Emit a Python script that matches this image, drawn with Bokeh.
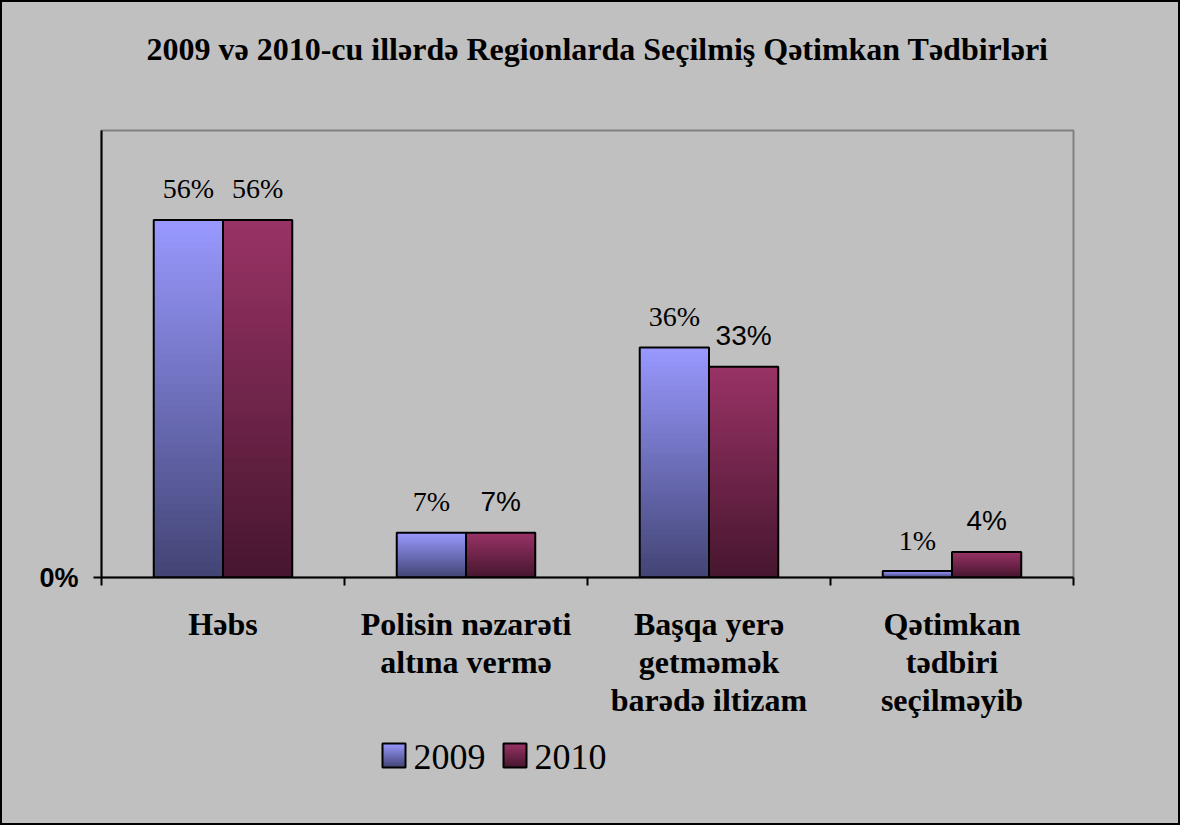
from bokeh.plotting import figure
from bokeh.layouts import column
from bokeh.models import Range1d, FixedTicker, ColumnDataSource
from bokeh.embed import file_html
from bokeh.resources import INLINE

# ---- data ----
title_text = "2009 və 2010-cu illərdə Regionlarda Seçilmiş Qətimkan Tədbirləri"
categories = ["Həbs", "Polisin nəzarəti\naltına vermə", "Başqa yerə\ngetməmək\nbarədə iltizam",
              "Qətimkan\ntədbiri\nseçilməyib"]
series_names = ["2009", "2010"]
values_2009 = [56, 7, 36, 1]
values_2010 = [56, 7, 33, 4]
labels_2009 = ["56%", "7%", "36%", "1%"]
labels_2010 = ["56%", "7%", "33%", "4%"]
label_fonts_2009 = ["Liberation Serif", "Liberation Serif", "Liberation Serif", "Liberation Serif"]
label_fonts_2010 = ["Liberation Serif", "Liberation Sans", "Liberation Sans", "Liberation Sans"]
y_ticks = [0]
y_tick_labels = ["0%"]

# ---- styles ----
BG = "#C0C0C0"
top_colors = [(153, 153, 255), (153, 51, 102)]
bottom_colors = [(66, 68, 116), (70, 22, 46)]
BAR_W = 0.285
N = 48
W = 1176
FRAME_L, FRAME_W = 99, 972


def hexcol(c):
    return "#%02x%02x%02x" % tuple(int(round(v)) for v in c)


def interp(a, b, t):
    return tuple(a[i] + (b[i] - a[i]) * t for i in range(3))


def gradient_quads(fig, lefts, rights, tops, bottoms, s, overlap):
    L, R, T, B, C = [], [], [], [], []
    for left, right, top, bot in zip(lefts, rights, tops, bottoms):
        h = top - bot
        for k in range(N):
            t = (k + 0.5) / N
            L.append(left)
            R.append(right)
            B.append(bot + h * k / N)
            nxt = bot + h * (k + 1) / N + overlap
            T.append(min(nxt, top) if h > 0 else max(nxt, top))
            C.append(hexcol(interp(bottom_colors[s], top_colors[s], t)))
    fig.quad(left="l", right="r", top="t", bottom="b", fill_color="c", line_color=None,
             source=ColumnDataSource(dict(l=L, r=R, t=T, b=B, c=C)))
    fig.quad(left=lefts, right=rights, top=tops, bottom=bottoms, fill_color=None,
             line_color="black", line_width=2)


def blank_fig(h, y0, y1):
    # frame is aligned with the main chart's frame by the column layout:
    # data coordinates equal page pixels
    f = figure(width=W, height=h, x_range=Range1d(2 + FRAME_L, 2 + FRAME_L + FRAME_W),
               y_range=Range1d(y1, y0),
               output_backend="svg", toolbar_location=None, min_border=0,
               min_border_left=FRAME_L, min_border_right=W - FRAME_L - FRAME_W,
               background_fill_color=BG, border_fill_color=BG, outline_line_color=None)
    f.axis.visible = False
    f.grid.visible = False
    return f


# ---- title strip ----
pt = blank_fig(108, 2, 110)
pt.text(x=[597], y=[48], text=[title_text], text_font="Liberation Serif", text_font_style="bold",
        text_font_size="32px", text_align="center", text_baseline="alphabetic", text_color="black")

# ---- main chart ----
p = figure(x_range=Range1d(0, 4), y_range=Range1d(0, 70),
           frame_width=FRAME_W, frame_height=447,
           min_border_left=FRAME_L, min_border_right=W - FRAME_L - FRAME_W,
           min_border_top=20, min_border_bottom=151,
           output_backend="svg", toolbar_location=None,
           background_fill_color=BG, border_fill_color=BG,
           outline_line_color="#808080", outline_line_width=2)
p.xgrid.visible = False
p.ygrid.visible = False

for s, vals in enumerate([values_2009, values_2010]):
    lefts = [i + 0.5 - BAR_W if s == 0 else i + 0.5 for i in range(len(vals))]
    rights = [i + 0.5 if s == 0 else i + 0.5 + BAR_W for i in range(len(vals))]
    gradient_quads(p, lefts, rights, list(vals), [0] * len(vals), s, 0.4)

lx, ly, lt, lf = [], [], [], []
for s, (vals, labs, fonts) in enumerate([(values_2009, labels_2009, label_fonts_2009),
                                          (values_2010, labels_2010, label_fonts_2010)]):
    for i, v in enumerate(vals):
        c = i + 0.5
        lx.append(c - BAR_W / 2 if s == 0 else c + BAR_W / 2)
        ly.append(v)
        lt.append(labs[i])
        lf.append(fonts[i])
p.text(x="x", y="y", text="t", text_font="f", source=ColumnDataSource(dict(x=lx, y=ly, t=lt, f=lf)),
       text_font_size="28px", text_align="center", text_baseline="alphabetic", y_offset=-31,
       text_color="black")

xa = p.xaxis[0]
xa.ticker = FixedTicker(ticks=[i + 0.5 for i in range(len(categories))],
                        minor_ticks=list(range(len(categories) + 1)))
xa.major_label_overrides = {i + 0.5: cat for i, cat in enumerate(categories)}
xa.major_tick_out = 0
xa.major_tick_in = 0
xa.minor_tick_out = 8
xa.minor_tick_in = 0
xa.minor_tick_line_color = "black"
xa.minor_tick_line_width = 2
xa.axis_line_color = "black"
xa.axis_line_width = 2
xa.major_label_standoff = 20
xa.major_label_text_font = "Liberation Serif"
xa.major_label_text_font_style = "bold"
xa.major_label_text_font_size = "32px"
xa.major_label_text_color = "black"
xa.major_label_text_line_height = 1.06

ya = p.yaxis[0]
ya.ticker = FixedTicker(ticks=y_ticks, minor_ticks=[])
ya.major_label_overrides = {t: l for t, l in zip(y_ticks, y_tick_labels)}
ya.major_tick_out = 8
ya.major_tick_in = 0
ya.major_tick_line_color = "black"
ya.major_tick_line_width = 2
ya.axis_line_color = "black"
ya.axis_line_width = 2
ya.major_label_standoff = 15
ya.major_label_text_font = "Liberation Sans"
ya.major_label_text_font_style = "bold"
ya.major_label_text_font_size = "27px"
ya.major_label_text_color = "black"

# ---- legend strip ----
pl = blank_fig(95, 728, 823)
sw_left = [382, 503]
for s in range(2):
    gradient_quads(pl, [sw_left[s]], [sw_left[s] + 23], [743], [767], s, -0.5)
pl.text(x=[sw_left[s] + 31 for s in range(2)], y=[756, 756], text=series_names,
        text_font="Liberation Serif", text_font_size="36px", text_align="left",
        text_baseline="alphabetic", text_color="black")

layout = column(pt, p, pl, spacing=0, styles={"border": "2px solid black", "background-color": BG})

open("out.html", "w").write(file_html(layout, INLINE))
